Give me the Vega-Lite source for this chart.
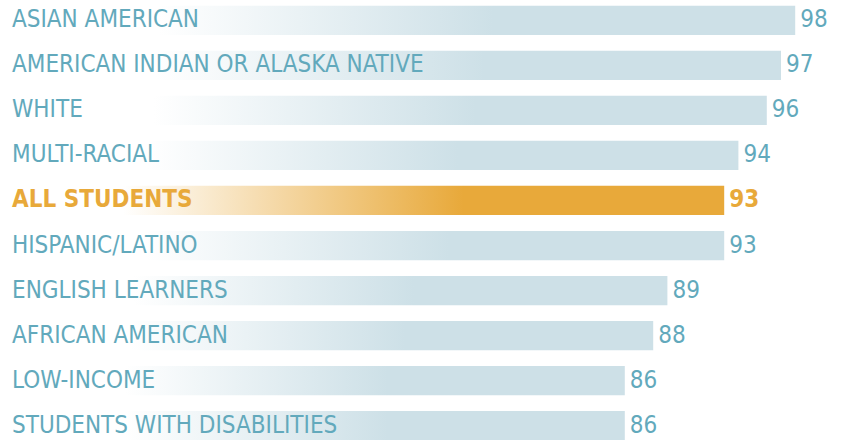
{
  "$schema": "https://vega.github.io/schema/vega-lite/v6.json",
  "width": 852,
  "height": 446,
  "padding": 0,
  "autosize": {"type": "none"},
  "background": "white",
  "config": {"view": {"stroke": null}},
  "data": {"values": [
    {"group": "ASIAN AMERICAN", "value": 98},
    {"group": "AMERICAN INDIAN OR ALASKA NATIVE", "value": 97},
    {"group": "WHITE", "value": 96},
    {"group": "MULTI-RACIAL", "value": 94},
    {"group": "ALL STUDENTS", "value": 93},
    {"group": "HISPANIC/LATINO", "value": 93},
    {"group": "ENGLISH LEARNERS", "value": 89},
    {"group": "AFRICAN AMERICAN", "value": 88},
    {"group": "LOW-INCOME", "value": 86},
    {"group": "STUDENTS WITH DISABILITIES", "value": 86}
  ]},
  "encoding": {
    "y": {"field": "group", "type": "nominal", "sort": null, "axis": null,
          "scale": {"paddingInner": 0.35, "paddingOuter": 0.13}}
  },
  "layer": [
    {
      "mark": {"type": "bar"},
      "encoding": {
        "x": {"field": "value", "type": "quantitative", "scale": {"domain": [42, 102], "zero": false, "nice": false}, "axis": null},
        "x2": {"datum": 42},
        "fill": {
          "condition": {"test": "datum.group === 'ALL STUDENTS'", "value": {"gradient": "linear", "x1": 0, "x2": 1, "y1": 0, "y2": 0, "stops": [{"offset": 0, "color": "#ffffff"}, {"offset": 0.17, "color": "#ffffff"}, {"offset": 0.64, "color": "#e8a93a"}, {"offset": 1, "color": "#e8a93a"}]}},
          "value": {"gradient": "linear", "x1": 0, "x2": 1, "y1": 0, "y2": 0, "stops": [{"offset": 0, "color": "#ffffff"}, {"offset": 0.2, "color": "#ffffff"}, {"offset": 0.62, "color": "#cde0e7"}, {"offset": 1, "color": "#cde0e7"}]}
        }
      }
    },
    {
      "transform": [{"filter": "datum.group !== 'ALL STUDENTS'"}],
      "mark": {"type": "text", "align": "left", "baseline": "middle", "dx": 12, "font": "DejaVu Sans Condensed", "fontSize": 24, "fill": "#62a9bc"},
      "encoding": {"x": {"datum": 42}, "text": {"field": "group"}}
    },
    {
      "transform": [{"filter": "datum.group === 'ALL STUDENTS'"}],
      "mark": {"type": "text", "align": "left", "baseline": "middle", "dx": 12, "font": "DejaVu Sans Condensed", "fontSize": 24, "fontWeight": "bold", "fill": "#e8a93a"},
      "encoding": {"x": {"datum": 42}, "text": {"field": "group"}}
    },
    {
      "transform": [{"filter": "datum.group !== 'ALL STUDENTS'"}],
      "mark": {"type": "text", "align": "left", "baseline": "middle", "dx": 5, "font": "DejaVu Sans Condensed", "fontSize": 24, "fill": "#62a9bc"},
      "encoding": {"x": {"field": "value", "type": "quantitative"}, "text": {"field": "value"}}
    },
    {
      "transform": [{"filter": "datum.group === 'ALL STUDENTS'"}],
      "mark": {"type": "text", "align": "left", "baseline": "middle", "dx": 5, "font": "DejaVu Sans Condensed", "fontSize": 24, "fontWeight": "bold", "fill": "#e8a93a"},
      "encoding": {"x": {"field": "value", "type": "quantitative"}, "text": {"field": "value"}}
    }
  ]
}
